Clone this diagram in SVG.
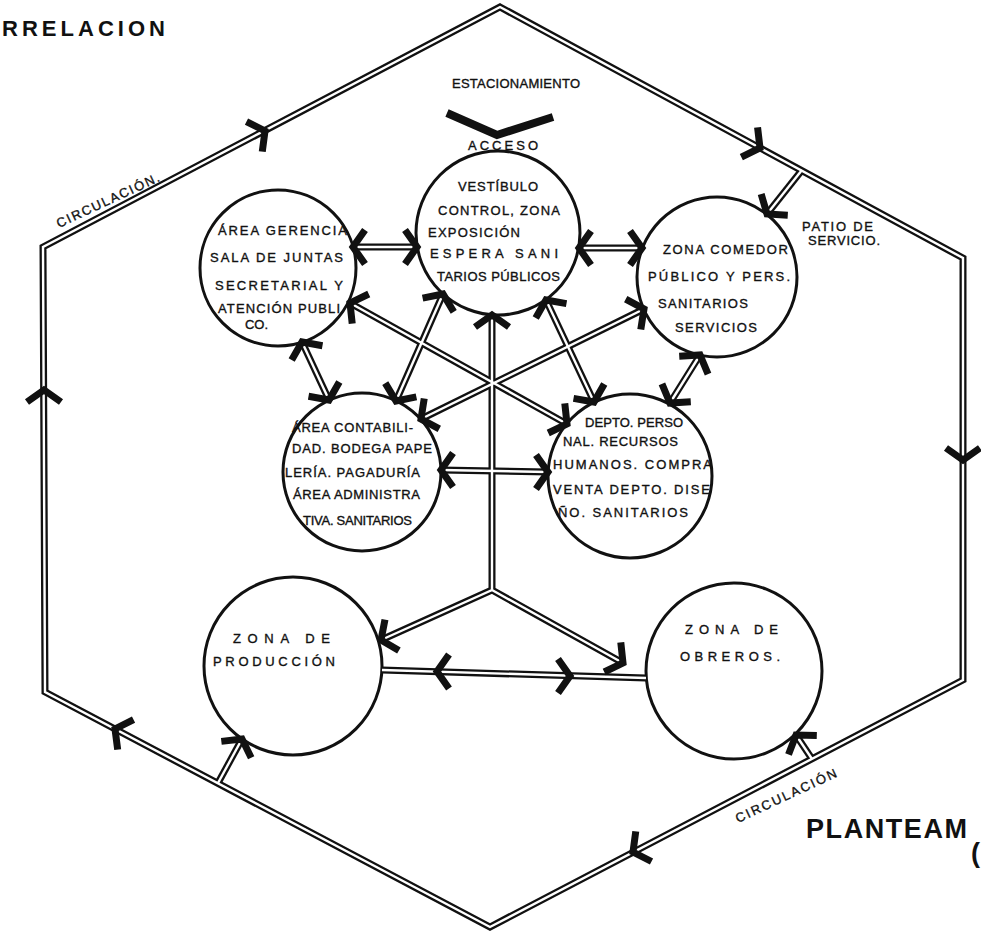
<svg xmlns="http://www.w3.org/2000/svg" width="981" height="936" viewBox="0 0 981 936">
<style>
.hand{font-family:"Liberation Sans",Arial,sans-serif;font-size:13px;fill:#111;stroke:#111;stroke-width:0.35;}
.title{font-family:"Liberation Sans",Arial,sans-serif;font-weight:bold;fill:#111;}
.node circle{fill:#fff;stroke:#111;stroke-width:3;}
.outer{fill:none;stroke:#111;stroke-width:7;stroke-linejoin:miter;}
.inner{fill:none;stroke:#fff;stroke-width:2.4;stroke-linejoin:miter;}
.chev{fill:none;stroke:#111;stroke-width:7;stroke-linejoin:miter;stroke-miterlimit:4;}
</style>
<defs>
<path id="ah" d="M-12,-17 L0,0 L-12,17"/>
<g id="lines">
<path d="M500,7 L963,258 L963,680 L490,927 L45,692 L43,247 Z"/>
<path d="M802,170 L767,214"/>
<path d="M218,783 L242,739"/>
<path d="M812,759 L796,735"/>
<path d="M353,247 L417,247"/>
<path d="M579,248 L642,248"/>
<path d="M700,355 L670,403"/>
<path d="M441,470 L548,472"/>
<path d="M302,342 L329,400"/>
<path d="M443,294 L396,401"/>
<path d="M546,300 L594,402"/>
<path d="M350,303 L567,424"/>
<path d="M644,309 L421,419"/>
<path d="M492,315 L492,590 L381,640 M492,590 L623,663"/>
<path d="M382,670 L646,678"/>
</g>
</defs>

<g id="n-gerencia" class="node">
<circle cx="278" cy="268" r="78"/>
<text class="hand" x="218" y="235" textLength="129">ÁREA GERENCIA</text>
<text class="hand" x="210" y="262" textLength="133">SALA DE JUNTAS</text>
<text class="hand" x="215" y="290" textLength="128">SECRETARIAL Y</text>
<text class="hand" x="218" y="313" textLength="122">ATENCIÓN PUBLI</text>
<text class="hand" x="245" y="329" textLength="23">CO.</text>
</g>

<g id="n-vestibulo" class="node">
<circle cx="498" cy="233" r="82"/>
<text class="hand" x="458" y="191" textLength="80">VESTÍBULO</text>
<text class="hand" x="438" y="215" textLength="122">CONTROL, ZONA</text>
<text class="hand" x="428" y="237" textLength="92">EXPOSICIÓN</text>
<text class="hand" x="430" y="258" textLength="128">ESPERA SANI</text>
<text class="hand" x="437" y="281" textLength="123">TARIOS PÚBLICOS</text>
</g>

<g id="n-comedor" class="node">
<circle cx="717" cy="277" r="80"/>
<text class="hand" x="663" y="254" textLength="125">ZONA COMEDOR</text>
<text class="hand" x="648" y="281" textLength="142">PÚBLICO Y PERS.</text>
<text class="hand" x="658" y="308" textLength="90">SANITARIOS</text>
<text class="hand" x="675" y="332" textLength="82">SERVICIOS</text>
</g>

<g id="n-contabilidad" class="node">
<circle cx="362" cy="472" r="79"/>
<text class="hand" x="292" y="432" textLength="121">ÁREA CONTABILI-</text>
<text class="hand" x="292" y="453" textLength="140">DAD. BODEGA PAPE</text>
<text class="hand" x="285" y="477" textLength="135">LERÍA. PAGADURÍA</text>
<text class="hand" x="293" y="499" textLength="127">ÁREA ADMINISTRA</text>
<text class="hand" x="303" y="525" textLength="109">TIVA. SANITARIOS</text>
</g>

<g id="n-personal" class="node">
<circle cx="630" cy="476" r="82"/>
<text class="hand" x="585" y="427" textLength="98">DEPTO. PERSO</text>
<text class="hand" x="563" y="446" textLength="115">NAL. RECURSOS</text>
<text class="hand" x="553" y="469" textLength="159">HUMANOS. COMPRA</text>
<text class="hand" x="553" y="494" textLength="157">VENTA DEPTO. DISE</text>
<text class="hand" x="558" y="517" textLength="130">ÑO. SANITARIOS</text>
</g>

<g id="n-produccion" class="node">
<circle cx="293" cy="666" r="89"/>
<text class="hand" x="233" y="643" textLength="97">ZONA DE</text>
<text class="hand" x="213" y="666" textLength="122">PRODUCCIÓN</text>
</g>

<g id="n-obreros" class="node">
<circle cx="734" cy="671" r="88"/>
<text class="hand" x="685" y="634" textLength="93">ZONA DE</text>
<text class="hand" x="680" y="661" textLength="100">OBREROS.</text>
</g>

<g id="connectors">
<use href="#lines" class="outer"/>
<use href="#lines" class="inner"/>
<path class="chev" style="stroke-width:8" d="M447,113 L497,135 L553,117"/>
<use href="#ah" class="chev" transform="translate(265,131) rotate(-27.7)"/>
<use href="#ah" class="chev" transform="translate(760,148) rotate(28.5)"/>
<use href="#ah" class="chev" transform="translate(963,460) rotate(90)"/>
<use href="#ah" class="chev" transform="translate(633,852) rotate(152.4)"/>
<use href="#ah" class="chev" transform="translate(115,729) rotate(-152.2)"/>
<use href="#ah" class="chev" transform="translate(44,390) rotate(-90)"/>
<use href="#ah" class="chev" transform="translate(767,214) rotate(128.5)"/>
<use href="#ah" class="chev" transform="translate(242,739) rotate(-61.4)"/>
<use href="#ah" class="chev" transform="translate(796,735) rotate(-123.7)"/>
<use href="#ah" class="chev" transform="translate(353,247) rotate(180)"/>
<use href="#ah" class="chev" transform="translate(417,247) rotate(0)"/>
<use href="#ah" class="chev" transform="translate(579,248) rotate(180)"/>
<use href="#ah" class="chev" transform="translate(642,248) rotate(0)"/>
<use href="#ah" class="chev" transform="translate(700,355) rotate(-58)"/>
<use href="#ah" class="chev" transform="translate(670,403) rotate(122)"/>
<use href="#ah" class="chev" transform="translate(441,470) rotate(180)"/>
<use href="#ah" class="chev" transform="translate(548,472) rotate(0)"/>
<use href="#ah" class="chev" transform="translate(302,342) rotate(-115)"/>
<use href="#ah" class="chev" transform="translate(329,400) rotate(65)"/>
<use href="#ah" class="chev" transform="translate(443,294) rotate(-66.3)"/>
<use href="#ah" class="chev" transform="translate(396,401) rotate(113.7)"/>
<use href="#ah" class="chev" transform="translate(546,300) rotate(-115.2)"/>
<use href="#ah" class="chev" transform="translate(594,402) rotate(64.8)"/>
<use href="#ah" class="chev" transform="translate(350,303) rotate(-150.9)"/>
<use href="#ah" class="chev" transform="translate(567,424) rotate(29.1)"/>
<use href="#ah" class="chev" transform="translate(644,309) rotate(-26.3)"/>
<use href="#ah" class="chev" transform="translate(421,419) rotate(153.7)"/>
<use href="#ah" class="chev" transform="translate(492,315) rotate(-90)"/>
<use href="#ah" class="chev" transform="translate(381,640) rotate(155.8)"/>
<use href="#ah" class="chev" transform="translate(623,663) rotate(29.1)"/>
<use href="#ah" class="chev" transform="translate(437,671.5) rotate(180)"/>
<use href="#ah" class="chev" transform="translate(570,676) rotate(0)"/>
</g>

<g id="labels">
<text class="title" x="2" y="36" font-size="22" textLength="163">RRELACION</text>
<text class="title" x="806" y="838" font-size="27" textLength="161">PLANTEAM</text>
<text class="title" x="971" y="862" font-size="27">(</text>
<text class="hand" x="452" y="88" textLength="128">ESTACIONAMIENTO</text>
<text class="hand" x="468" y="150" textLength="70">ACCESO</text>
<text class="hand" x="802" y="231" textLength="71">PATIO DE</text>
<text class="hand" x="808" y="245" textLength="72">SERVICIO.</text>
<text class="hand" transform="translate(59,228) rotate(-25)" textLength="112">CIRCULACIÓN.</text>
<text class="hand" transform="translate(738,823) rotate(-25)" textLength="110">CIRCULACIÓN</text>
</g>
</svg>
